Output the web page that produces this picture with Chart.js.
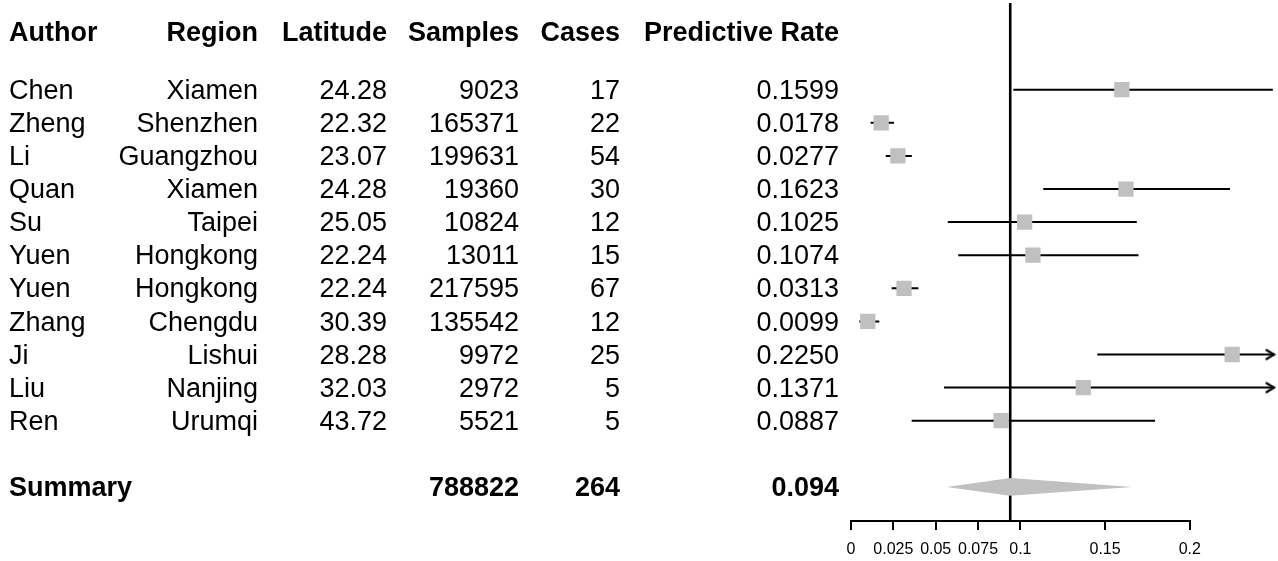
<!DOCTYPE html>
<html>
<head>
<meta charset="utf-8">
<title>Predictive rate forest plot</title>
<script src="https://cdn.jsdelivr.net/npm/chart.js@4/dist/chart.umd.min.js"></script>
<style>
  html, body { margin: 0; padding: 0; background: #fff; }
  #wrap { width: 1278px; height: 561px; }
</style>
</head>
<body>
<div id="wrap"><canvas id="forestChart"></canvas></div>
<script>
// Study table
const authors = ['Chen', 'Zheng', 'Li', 'Quan', 'Su', 'Yuen', 'Yuen', 'Zhang', 'Ji', 'Liu', 'Ren'];
const regions = ['Xiamen', 'Shenzhen', 'Guangzhou', 'Xiamen', 'Taipei', 'Hongkong', 'Hongkong', 'Chengdu', 'Lishui', 'Nanjing', 'Urumqi'];
const latitudes = [24.28, 22.32, 23.07, 24.28, 25.05, 22.24, 22.24, 30.39, 28.28, 32.03, 43.72];
const samples = [9023, 165371, 199631, 19360, 10824, 13011, 217595, 135542, 9972, 2972, 5521];
const cases = [17, 22, 54, 30, 12, 15, 67, 12, 25, 5, 5];
const rates = [0.1599, 0.0178, 0.0277, 0.1623, 0.1025, 0.1074, 0.0313, 0.0099, 0.2250, 0.1371, 0.0887];
// confidence limits (Ji and Liu run past the right edge)
const lower = [0.0958, 0.0116, 0.0205, 0.1135, 0.0571, 0.0633, 0.0240, 0.0049, 0.1454, 0.0549, 0.0358];
const upper = [0.2490, 0.0254, 0.0359, 0.2237, 0.1687, 0.1697, 0.0398, 0.0167, 0.3300, 0.2800, 0.1795];

// Summary row
const summarySamples = 788822;
const summaryCases = 264;
const summaryRate = 0.094;
const summaryLower = 0.0565;
const summaryUpper = 0.166;

// x axis ticks
const xTicks = [0, 0.025, 0.05, 0.075, 0.1, 0.15, 0.2];
const xTickLabels = ['0', '0.025', '0.05', '0.075', '0.1', '0.15', '0.2'];

// rows on the y scale
const headerRow = -0.74;
const studyRows = authors.map((a, i) => i + 1);
const summaryRow = 13;
const tableRows = [headerRow, ...studyRows, summaryRow];

const X_MIN = 0, X_MAX = 0.25;
const Y_MIN = -1.62, Y_MAX = 14;
const TEXT_SHIFT = 0.05; // text sits a touch lower than the marks
const FONT = '"Liberation Sans", Arial, Helvetica, sans-serif';

// one text column of the table = one y axis with ticks on the rows
function columnAxis(header, cells, summary, width, weight, align, pad, mirror) {
  const labels = [header, ...cells, summary];
  return {
    type: 'linear',
    position: 'left',
    weight: weight,
    min: Y_MIN - TEXT_SHIFT,
    max: Y_MAX - TEXT_SHIFT,
    reverse: true,
    grid: { display: false, drawTicks: false },
    border: { display: false },
    afterBuildTicks: s => { s.ticks = tableRows.map(v => ({ value: v })); },
    afterFit: s => { s.width = width; s.paddingTop = 0; s.paddingBottom = 0; },
    ticks: {
      autoSkip: false,
      mirror: !!mirror,
      padding: pad,
      crossAlign: align,
      color: '#000',
      font: c => ({
        family: FONT,
        size: 27,
        weight: (c.index === 0 || c.index === labels.length - 1) ? 'bold' : 'normal'
      }),
      callback: (v, i) => labels[i]
    }
  };
}

// open arrow head used where a limit runs off the plot
const arrowHead = document.createElement('canvas');
arrowHead.width = 24;
arrowHead.height = 14;
(function () {
  const c = arrowHead.getContext('2d');
  c.strokeStyle = '#000';
  c.lineWidth = 2.2;
  c.lineCap = 'round';
  c.beginPath();
  c.moveTo(4, 2.5);
  c.lineTo(11.5, 7);
  c.lineTo(4, 11.5);
  c.stroke();
})();

const ciPoints = [];
studyRows.forEach((r, i) => {
  ciPoints.push({ x: lower[i], y: r }, { x: upper[i], y: r }, { x: null, y: null });
});

const dh = 0.27;
const diamond = [
  { x: summaryLower, y: summaryRow },
  { x: summaryRate, y: summaryRow - dh },
  { x: summaryUpper, y: summaryRow },
  { x: summaryRate, y: summaryRow + dh },
  { x: summaryLower, y: summaryRow }
];

const axisLine = {
  id: 'axisLine',
  afterDraw(chart) {
    const x = chart.scales.x;
    const ctx = chart.ctx;
    ctx.save();
    ctx.strokeStyle = '#000';
    ctx.lineWidth = 2;
    ctx.beginPath();
    ctx.moveTo(x.getPixelForValue(xTicks[0]) - 1, x.top + 1);
    ctx.lineTo(x.getPixelForValue(xTicks[xTicks.length - 1]) + 1, x.top + 1);
    ctx.stroke();
    ctx.restore();
  }
};

const forestCtx = document.getElementById('forestChart').getContext('2d');
const forestChart = new Chart(forestCtx, {
  type: 'scatter',
  data: {
    datasets: [
      {
        label: 'Predictive rate',
        data: studyRows.map((r, i) => ({ x: rates[i], y: r })),
        pointStyle: 'rect',
        pointRadius: 10.8,
        backgroundColor: '#c0c0c0',
        borderWidth: 0,
        order: 0
      },
      {
        label: 'Summary',
        data: diamond,
        showLine: true,
        fill: 'shape',
        backgroundColor: '#c0c0c0',
        borderColor: '#c0c0c0',
        borderWidth: 0,
        pointRadius: 0,
        order: 1
      },
      {
        label: 'Arrows',
        data: studyRows.filter((r, i) => upper[i] > X_MAX).map(r => ({ x: X_MAX, y: r })),
        pointStyle: arrowHead,
        clip: 10,
        order: 1
      },
      {
        label: 'CI',
        data: ciPoints,
        showLine: true,
        borderColor: '#000',
        borderWidth: 2,
        pointRadius: 0,
        order: 2
      },
      {
        label: 'Reference',
        data: [{ x: summaryRate, y: Y_MIN }, { x: summaryRate, y: Y_MAX }],
        showLine: true,
        borderColor: '#000',
        borderWidth: 2.6,
        pointRadius: 0,
        order: 3
      }
    ]
  },
  options: {
    responsive: true,
    maintainAspectRatio: false,
    animation: false,
    events: [],
    layout: { autoPadding: false, padding: { left: 9, top: 3, right: 3.5, bottom: 0 } },
    plugins: {
      legend: { display: false },
      tooltip: { enabled: false }
    },
    scales: {
      x: {
        type: 'linear',
        position: 'bottom',
        min: X_MIN,
        max: X_MAX,
        afterBuildTicks: s => { s.ticks = xTicks.map(v => ({ value: v })); },
        afterFit: s => { s.height = 41; s.paddingLeft = 0; s.paddingRight = 0; },
        grid: { drawOnChartArea: false, drawTicks: true, tickLength: 10, color: '#000', lineWidth: 2 },
        border: { display: false },
        ticks: {
          autoSkip: false,
          maxRotation: 0,
          padding: 10,
          color: '#000',
          font: { family: FONT, size: 16 },
          callback: (v, i) => xTickLabels[i]
        }
      },
      y: {
        type: 'linear',
        display: false,
        position: 'left',
        weight: 0,
        min: Y_MIN,
        max: Y_MAX,
        reverse: true,
        afterFit: s => { s.width = 0; }
      },
      author: columnAxis('Author', authors, 'Summary', 0, 6, 'near', 0, true),
      region: columnAxis('Region', regions, '', 249, 5, 'near', 0),
      latitude: columnAxis('Latitude', latitudes.map(v => v.toFixed(2)), '', 129, 4, 'near', 0),
      samples: columnAxis('Samples', samples.map(String), String(summarySamples), 132, 3, 'near', 0),
      cases: columnAxis('Cases', cases.map(String), String(summaryCases), 101, 2, 'near', 0),
      rate: columnAxis('Predictive Rate', rates.map(v => v.toFixed(4)), summaryRate.toFixed(3), 231, 1, 'near', 12)
    }
  },
  plugins: [axisLine]
});
</script>
</body>
</html>
